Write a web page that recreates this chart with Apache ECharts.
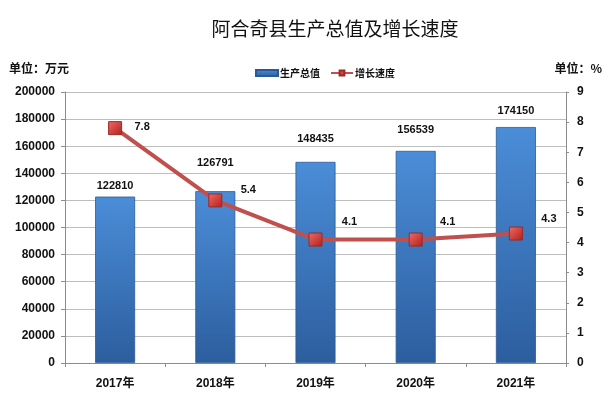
<!DOCTYPE html>
<html>
<head>
<meta charset="utf-8">
<script src="https://cdn.jsdelivr.net/npm/echarts@6/dist/echarts.min.js"></script>
<style>html,body{margin:0;padding:0;background:#fff;}#c{width:612px;height:395px;}</style>
</head>
<body>
<div id="c"></div>
<script>
var categories = ['2017年', '2018年', '2019年', '2020年', '2021年'];
var gdpValues = [122810, 126791, 148435, 156539, 174150];
var growthValues = [7.8, 5.4, 4.1, 4.1, 4.3];
var leftTicks = {min: 0, max: 200000, interval: 20000};
var rightTicks = {min: 0, max: 9, interval: 1};

// label nudges (styling only)
var barLabelDy = [0, -18, -12, -10, -6];
var lineLabelOffset = [[27, -1], [33, -10], [34, -18], [32, -18], [33, -15]];

var FONT = 'Liberation Sans, Arial, "Noto Sans CJK SC", sans-serif';
var chart = echarts.init(document.getElementById('c'));

var barData = gdpValues.map(function (v, i) {
  return {value: v, label: {offset: [0, barLabelDy[i]]}};
});
var lineData = growthValues.map(function (v, i) {
  return {value: v, label: {offset: lineLabelOffset[i]}};
});

chart.setOption({
  backgroundColor: '#fff',
  animation: false,
  title: [
    {text: '阿合奇县生产总值及增长速度', left: 330, top: 14, textAlign: 'center',
     textStyle: {fontFamily: '"Noto Sans CJK SC", sans-serif', fontSize: 19, fontWeight: 'normal', color: '#111'}},
    {text: '单位：万元', left: 4, top: 57,
     textStyle: {fontFamily: '"Noto Sans CJK SC", sans-serif', fontSize: 12, fontWeight: 'bold', color: '#111'}},
    {text: '单位：%', right: 5, top: 57,
     textStyle: {fontFamily: '"Noto Sans CJK SC", sans-serif', fontSize: 12, fontWeight: 'bold', color: '#111'}}
  ],
  legend: {
    left: 250, top: 63, itemGap: 10, itemWidth: 22, itemHeight: 6,
    textStyle: {fontFamily: '"Noto Sans CJK SC", sans-serif', fontSize: 10, fontWeight: 'bold', color: '#111', padding: [0, 0, 0, -3]},
    data: [
      {name: '生产总值', icon: 'rect'},
      {name: '增长速度'}
    ]
  },
  grid: {left: 65, right: 46, top: 92, bottom: 32, containLabel: false},
  xAxis: {
    type: 'category', data: categories,
    axisLine: {lineStyle: {color: '#8c8c8c'}},
    axisTick: {show: true, length: 4, lineStyle: {color: '#8c8c8c'}},
    axisLabel: {margin: 15, fontFamily: FONT, fontSize: 12, fontWeight: 'bold', color: '#111'}
  },
  yAxis: [
    {type: 'value', min: leftTicks.min, max: leftTicks.max, interval: leftTicks.interval,
     axisLine: {show: true, lineStyle: {color: '#8c8c8c'}},
     axisTick: {show: true, length: 4, lineStyle: {color: '#8c8c8c'}},
     splitLine: {show: true, lineStyle: {color: '#bdbdbd'}},
     axisLabel: {margin: 10, fontFamily: FONT, fontSize: 12, fontWeight: 'bold', color: '#111',
                 formatter: function (v) { return String(v); }}},
    {type: 'value', min: rightTicks.min, max: rightTicks.max, interval: rightTicks.interval, position: 'right',
     axisLine: {show: true, lineStyle: {color: '#8c8c8c'}},
     axisTick: {show: true, length: 3, lineStyle: {color: '#8c8c8c'}},
     splitLine: {show: false},
     axisLabel: {margin: 11, fontFamily: FONT, fontSize: 12, fontWeight: 'bold', color: '#111'}}
  ],
  series: [
    {name: '生产总值', type: 'bar', yAxisIndex: 0, barWidth: 40, data: barData,
     itemStyle: {
       color: new echarts.graphic.LinearGradient(0, 0, 0, 1, [
         {offset: 0, color: '#4b8dd8'}, {offset: 1, color: '#2c5e9e'}]),
       borderColor: '#2a5a96', borderWidth: 0.8
     },
     label: {show: true, position: 'top', distance: 5, fontFamily: FONT, fontSize: 11, fontWeight: 'bold', color: '#111'}
    },
    {name: '增长速度', type: 'line', yAxisIndex: 1, data: lineData,
     symbol: 'rect', symbolSize: 13, z: 5,
     lineStyle: {color: '#c0504d', width: 4},
     itemStyle: {
       color: new echarts.graphic.LinearGradient(0, 0, 1, 1, [
         {offset: 0, color: '#f06a66'}, {offset: 1, color: '#b0201c'}]),
       borderColor: '#9a2a27', borderWidth: 1
     },
     label: {show: true, position: 'inside', fontFamily: FONT, fontSize: 11, fontWeight: 'bold', color: '#111'}
    }
  ]
});
</script>
</body>
</html>
